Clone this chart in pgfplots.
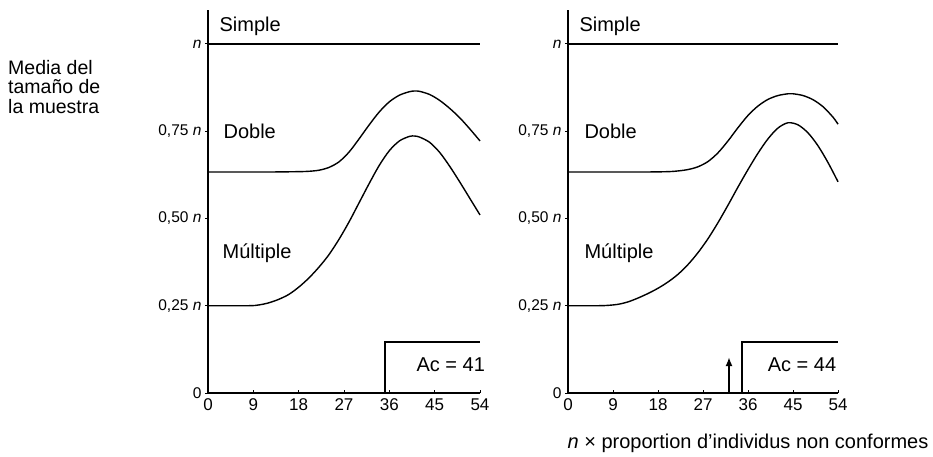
\documentclass[border=0pt]{standalone}
\usepackage{fontspec}
\setmainfont{Liberation Sans}
\usepackage{pgfplots}
\pgfplotsset{compat=1.18}
\usetikzlibrary{arrows.meta}
\begin{document}
\begin{tikzpicture}
\path[use as bounding box] (0pt,0pt) rectangle (933pt,457pt);
\pgfplotsset{
  every axis/.append style={
    scale only axis, height=383pt, xmin=0, xmax=54, ymin=0, ymax=1.097,
    axis x line=bottom, axis y line=left, axis line style={-, line width=1.3pt},
    clip=false, major tick length=3pt,
    x tick style={line width=0.8pt, black}, xtick align=inside,
    y tick style={line width=0.8pt, black}, ytick align=outside,
    xtick={0,9,18,27,36,45,54}, xticklabels={0,9,18,27,36,45,54},
    ytick={0,0.25,0.5,0.75,1},
    yticklabels={{0},{0,25 \textit{n}},{0,50 \textit{n}},{0,75 \textit{n}},{\textit{n}}},
    yticklabel style={font=\fontsize{15.5}{17}\selectfont},
    xticklabel style={font=\fontsize{17}{19}\selectfont, yshift=-2pt},
    cycle list={{black}},
    every axis plot/.append style={black, line width=1.4pt, no marks},
  }
}
\node[anchor=north west, align=left, font=\fontsize{19.5}{19.5}\selectfont, inner sep=0pt] at (8pt,397pt) {Media del\\tamaño de\\la muestra};
\begin{axis}[at={(208pt,64pt)}, anchor=south west, width=272pt]
\addplot[black] coordinates {(0,1) (54,1)};
\addplot[black, smooth] coordinates {(0,0.633) (12,0.633) (18,0.634) (20,0.635) (22,0.638) (24,0.646) (26,0.662) (28,0.69) (30,0.728) (32,0.768) (34,0.805) (36,0.834) (38,0.853) (40,0.863) (41,0.865) (42,0.864) (44,0.855) (46,0.838) (48,0.815) (50,0.788) (52,0.756) (54,0.722)};
\addplot[black, smooth] coordinates {(0,0.25) (8,0.25) (10,0.252) (12,0.258) (14,0.268) (16,0.282) (18,0.303) (20,0.329) (22,0.36) (24,0.396) (26,0.44) (28,0.49) (30,0.545) (32,0.60) (34,0.652) (36,0.694) (38,0.722) (40,0.735) (41,0.736) (42,0.733) (44,0.718) (46,0.689) (48,0.649) (50,0.604) (52,0.557) (54,0.51)};
\addplot[black] coordinates {(35.1,0) (35.1,0.146) (54,0.146)};
\node[anchor=west, font=\fontsize{20}{22}\selectfont] at (axis cs:1.6,1.05) {Simple};
\node[anchor=west, font=\fontsize{20}{22}\selectfont] at (axis cs:2.4,0.75) {Doble};
\node[anchor=west, font=\fontsize{20}{22}\selectfont] at (axis cs:2.2,0.40) {Múltiple};
\node[font=\fontsize{20}{22}\selectfont] at (axis cs:48.2,0.08) {Ac = 41};
\end{axis}
\begin{axis}[at={(568pt,64pt)}, anchor=south west, width=270pt]
\addplot[black] coordinates {(0,1) (54,1)};
\addplot[black, smooth] coordinates {(0,0.633) (15,0.633) (20,0.634) (22,0.636) (24,0.640) (26,0.648) (28,0.663) (30,0.688) (32,0.722) (34,0.760) (36,0.795) (38,0.822) (40,0.841) (42,0.852) (44,0.857) (45,0.857) (47,0.852) (49,0.840) (51,0.820) (53,0.790) (54,0.770)};
\addplot[black, smooth] coordinates {(0,0.25) (6,0.25) (8,0.251) (10,0.254) (12,0.261) (14,0.272) (16,0.285) (18,0.3) (20,0.318) (22,0.34) (24,0.368) (26,0.402) (28,0.442) (30,0.488) (32,0.538) (34,0.59) (36,0.64) (38,0.687) (40,0.728) (42,0.759) (44,0.774) (46,0.768) (48,0.745) (50,0.708) (52,0.66) (54,0.605)};
\addplot[black] coordinates {(34.8,0) (34.8,0.146) (54,0.146)};
\addplot[black, -{Latex[length=9pt,width=7pt]}, line width=2.5pt] coordinates {(32.2,0) (32.2,0.103)};
\node[anchor=west, font=\fontsize{20}{22}\selectfont] at (axis cs:1.6,1.05) {Simple};
\node[anchor=west, font=\fontsize{20}{22}\selectfont] at (axis cs:2.6,0.75) {Doble};
\node[anchor=west, font=\fontsize{20}{22}\selectfont] at (axis cs:2.6,0.40) {Múltiple};
\node[font=\fontsize{20}{22}\selectfont] at (axis cs:46.8,0.08) {Ac = 44};
\end{axis}
\node[font=\fontsize{20}{22}\selectfont] at (748pt,14pt) {\textit{n} × proportion d'individus non conformes};
\end{tikzpicture}
\end{document}
